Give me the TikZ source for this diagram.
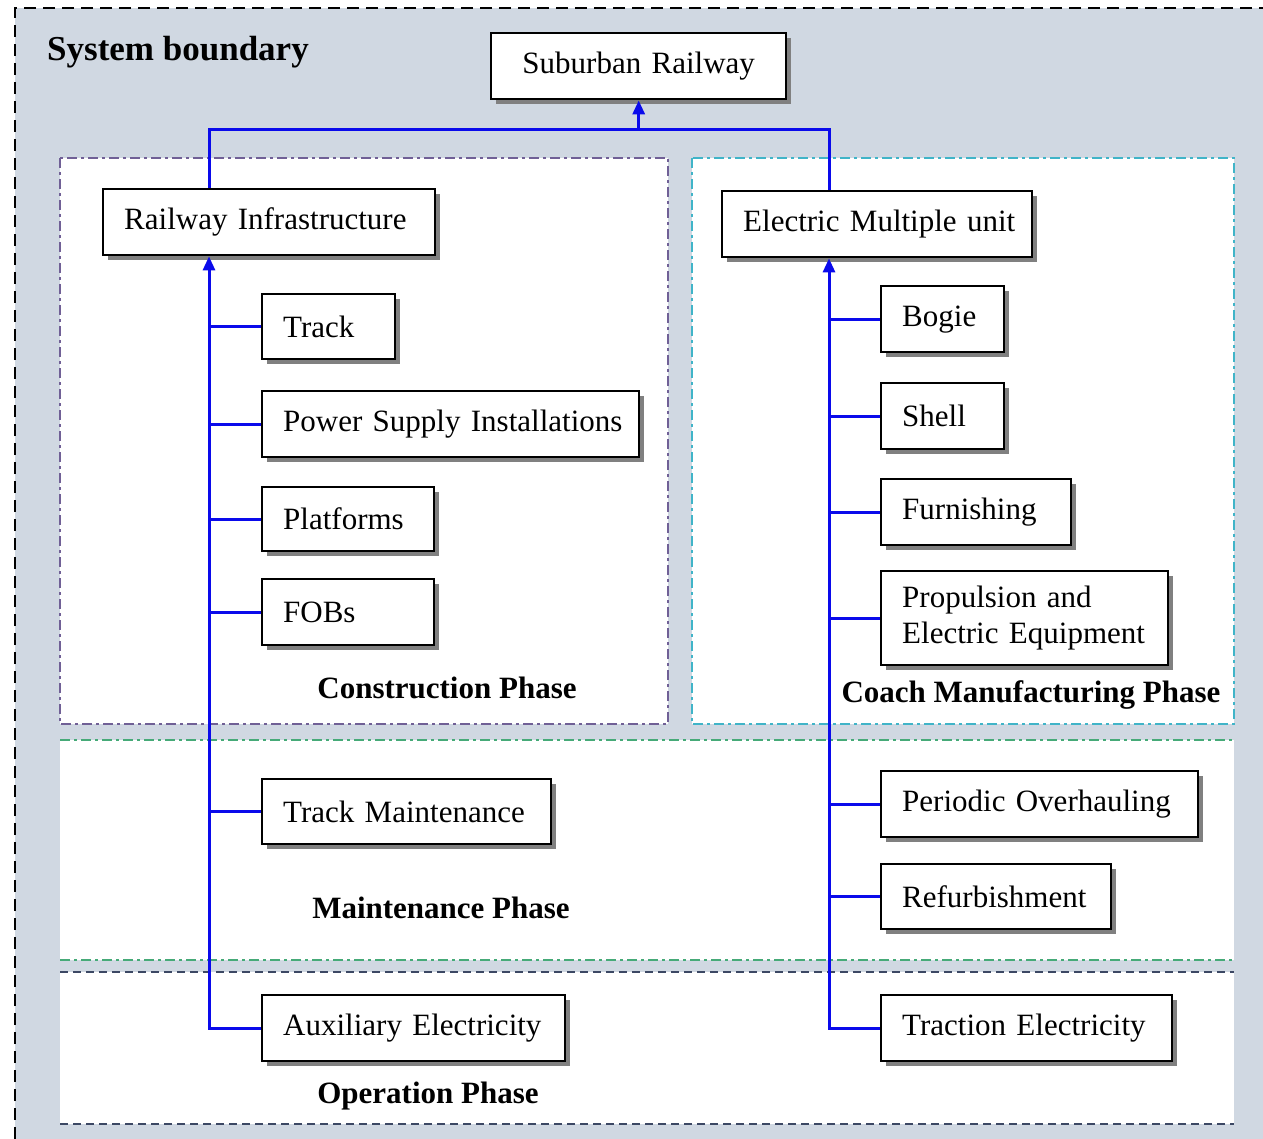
\documentclass[tikz,border=0pt]{standalone}
\usepackage{fontspec}
\setmainfont{Liberation Serif}
\usetikzlibrary{shadows,arrows.meta}
\definecolor{bgc}{RGB}{208,216,226}
\definecolor{conc}{RGB}{112,96,150}
\definecolor{coac}{RGB}{64,180,200}
\definecolor{mainc}{RGB}{70,170,120}
\definecolor{opec}{RGB}{60,72,100}
\definecolor{linkc}{RGB}{10,10,235}
\begin{document}
\begin{tikzpicture}[x=1pt,y=-1pt,
  box/.style={draw, line width=2.4pt, fill=white, align=left, inner xsep=21pt, inner ysep=0pt,
    anchor=north west, font=\fontsize{31}{36}\selectfont,
    drop shadow={shadow xshift=5pt, shadow yshift=-5pt, fill=black!50, opacity=1}},
  phase/.style={font=\fontsize{31}{36}\selectfont\bfseries, inner sep=0pt},
  conn/.style={draw=linkc, line width=3pt},
  tip/.style={-{Triangle[length=14pt,width=12pt]}},
  region/.style={line width=1.6pt, fill=white, dash pattern=on 10pt off 4pt on 3pt off 4pt}]
\useasboundingbox (0,0) rectangle (1263,1139);
\fill[bgc] (15,8) rectangle (1263,1139);
\draw[line width=2.8pt, dash pattern=on 12pt off 7pt] (15,1139) -- (15,8) -- (1263,8);

% phase regions
\filldraw[region, draw=conc] (60,158) rectangle (668,724);
\filldraw[region, draw=coac] (692,158) rectangle (1234,724);
\fill[white] (60,740) rectangle (1234,960);
\draw[region, draw=mainc] (60,740) -- (1234,740);
\draw[region, draw=mainc] (60,960) -- (1234,960);
\fill[white] (60,972) rectangle (1234,1124);
\draw[line width=1.6pt, draw=opec, dash pattern=on 8pt off 5pt] (60,972) -- (1234,972);
\draw[line width=1.6pt, draw=opec, dash pattern=on 8pt off 5pt] (60,1124) -- (1234,1124);

\node[font=\fontsize{35}{40}\selectfont\bfseries, inner sep=0pt, anchor=west] (sb) at (47,52) {System boundary};

% boxes
\node[box, align=center, text width=253pt, minimum height=66pt] (sr) at (490,32) {\mbox{Suburban Railway}};
\node[box, text width=290pt, minimum height=66pt] (ri) at (102,188) {\mbox{Railway Infrastructure}};
\node[box, text width=268pt, minimum height=66pt] (emu) at (721,190) {\mbox{Electric Multiple unit}};

\node[box, text width=91pt, minimum height=65pt] (track) at (261,293) {\mbox{Track}};
\node[box, text width=335pt, minimum height=66pt] (psi) at (261,390) {\mbox{Power Supply Installations}};
\node[box, text width=130pt, minimum height=64pt] (plat) at (261,486) {\mbox{Platforms}};
\node[box, text width=130pt, minimum height=66pt] (fob) at (261,578) {\mbox{FOBs}};
\node[box, text width=247pt, minimum height=65pt] (tm) at (261,778) {\mbox{Track Maintenance}};
\node[box, text width=261pt, minimum height=66pt] (aux) at (261,994) {\mbox{Auxiliary Electricity}};

\node[box, text width=81pt, minimum height=66pt] (bogie) at (880,285) {\mbox{Bogie}};
\node[box, text width=81pt, minimum height=66pt] (shell) at (880,382) {\mbox{Shell}};
\node[box, text width=148pt, minimum height=66pt] (furn) at (880,478) {\mbox{Furnishing}};
\node[box, text width=245pt, minimum height=94pt] (prop) at (880,570) {\mbox{Propulsion and}\\\mbox{Electric Equipment}};
\node[box, text width=275pt, minimum height=66pt] (po) at (880,770) {\mbox{Periodic Overhauling}};
\node[box, text width=188pt, minimum height=65pt] (ref) at (880,863) {\mbox{Refurbishment}};
\node[box, text width=249pt, minimum height=66pt] (trac) at (880,994) {\mbox{Traction Electricity}};

% phase labels
\node[phase] (cph) at (447,688) {Construction Phase};
\node[phase] (cmph) at (1031,695) {Coach Manufacturing Phase};
\node[phase] (mph) at (441,908) {Maintenance Phase};
\node[phase] (oph) at (428,1096) {Operation Phase};

% connectors
\coordinate (lt) at ([xshift=107pt]ri.south west);
\coordinate (rt) at ([xshift=108pt]emu.south west);
\coordinate (join) at (sr.south |- 0,130);

\draw[conn, tip] (aux.west) -| (lt);
\foreach \n in {track,psi,plat,fob,tm} \draw[conn] (\n.west) -- (\n.west -| lt);
\draw[conn, tip] (trac.west) -| (rt);
\foreach \n in {bogie,shell,furn,prop,po,ref} \draw[conn] (\n.west) -- (\n.west -| rt);

\draw[conn] ([xshift=107pt]ri.north west) |- (join) -| ([xshift=108pt]emu.north west);
\draw[conn, tip] (join) -- (sr.south);
\end{tikzpicture}
\end{document}
